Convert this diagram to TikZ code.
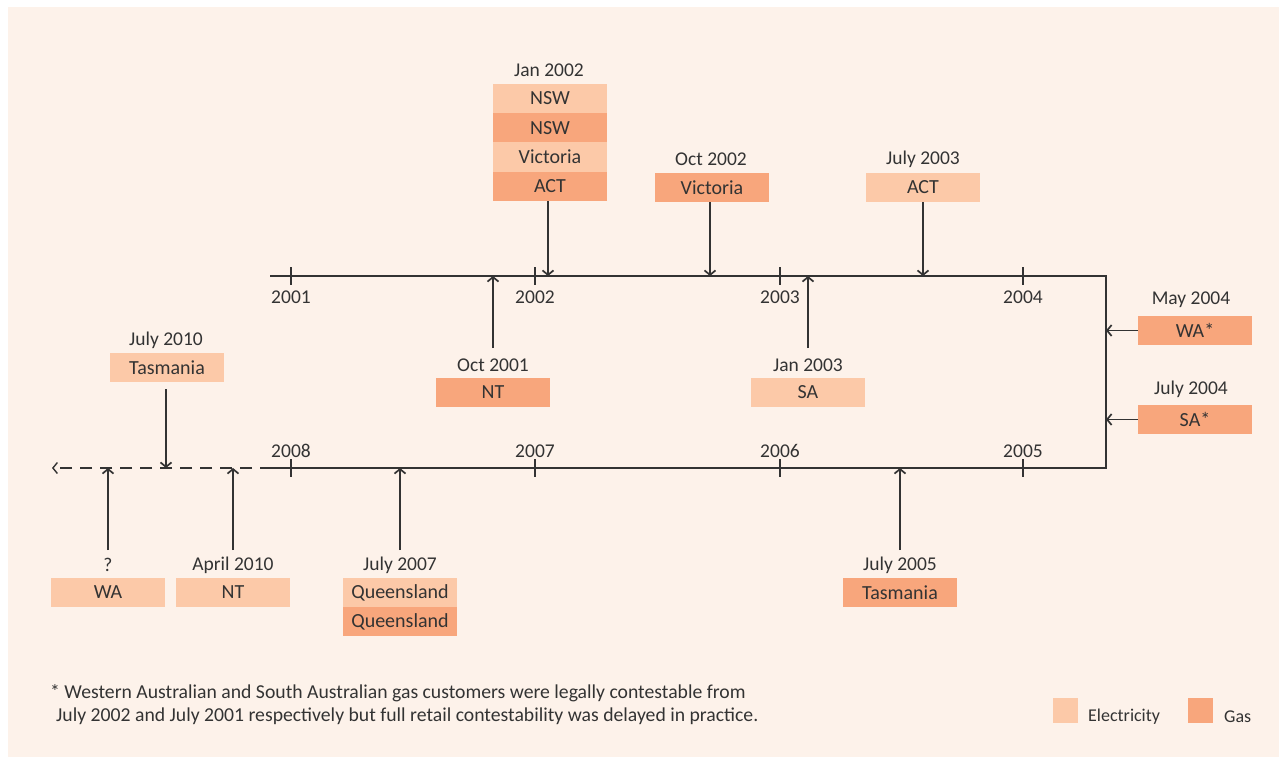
\documentclass[tikz,border=0pt]{standalone}
\usepackage{fontspec}
\setmainfont{Carlito}
\usetikzlibrary{arrows.meta}
\definecolor{bgc}{HTML}{FDF2EA}
\definecolor{elec}{HTML}{FCC9A8}
\definecolor{gasc}{HTML}{F8A67C}
\definecolor{ink}{HTML}{333333}
\tikzset{
  box/.style={minimum width=114pt, minimum height=29.3pt, inner sep=0pt, text=ink, font=\fontsize{20}{22}\selectfont},
  ebox/.style={box, fill=elec},
  gbox/.style={box, fill=gasc},
  lbl/.style={inner sep=0pt, text=ink, font=\fontsize{19.5}{22}\selectfont},
  yr/.style={inner sep=0pt, text=ink, font=\fontsize{19.5}{22}\selectfont},
  axis/.style={draw=ink, line width=1.5pt},
  arr/.style={draw=ink, line width=1.5pt, -{Straight Barb[length=4.5pt,width=11pt,line width=1.7pt]}},
  tick/.style={draw=ink, line width=1.4pt},
}
\begin{document}
\begin{tikzpicture}[x=1pt,y=-1pt]
\useasboundingbox (0,0) rectangle (1286,757);
\fill[white] (0,0) rectangle (1286,757);
\fill[bgc] (8,7) rectangle (1279,757);

% timeline coordinates
\coordinate (tl) at (270,276);
\coordinate (tr) at (1106,276);
\coordinate (br) at (1106,468);
\coordinate (bs) at (272,468);
\coordinate (bl) at (52,468);
\draw[axis] (tl) -- (tr) -- (br) -- (bs);
\draw[axis, dash pattern=on 12pt off 8pt, -{Straight Barb[length=4.5pt,width=11pt,line width=1.4pt]}] (bs) -- (bl);

% ticks top
\foreach \x/\y in {291/2001,535/2002,780/2003,1023/2004}{
  \draw[tick] (\x,267) -- (\x,285);
  \node[yr] (y\y) at (\x,297) {\y};
}
% ticks bottom
\foreach \x/\y in {291/2008,535/2007,780/2006,1023/2005}{
  \draw[tick] (\x,459) -- (\x,477);
  \node[yr] (y\y) at (\x,451) {\y};
}

% Jan 2002
\node[lbl] (ljan02) at (549,70) {Jan 2002};
\node[ebox] (j1) at (550,98.5) {NSW};
\node[gbox] (j2) at (550,127.8) {NSW};
\node[ebox] (j3) at (550,157.1) {Victoria};
\node[gbox] (j4) at (550,186.4) {ACT};
\coordinate (pj) at (548,276);
\draw[arr] (j4.south -| pj) -- (pj);

% Oct 2002
\node[lbl] (loct02) at (711,159) {Oct 2002};
\node[gbox] (oct02) at (712,187.5) {Victoria};
\coordinate (po2) at (710,276);
\draw[arr] (oct02.south -| po2) -- (po2);

% July 2003
\node[lbl] (ljul03) at (923,159) {July 2003};
\node[ebox] (jul03) at (923,187.5) {ACT};
\coordinate (pj3) at (923,276);
\draw[arr] (jul03.south) -- (pj3);

% Oct 2001
\node[lbl] (loct01) at (493,365) {Oct 2001};
\node[gbox] (oct01) at (493,392.5) {NT};
\coordinate (so1) at (493,348);
\coordinate (po1) at (493,276);
\draw[arr] (so1) -- (po1);

% Jan 2003
\node[lbl] (ljan03) at (808,365) {Jan 2003};
\node[ebox] (jan03) at (808,392.5) {SA};
\coordinate (sj3) at (808,348);
\coordinate (pjn3) at (808,276);
\draw[arr] (sj3) -- (pjn3);

% May 2004
\node[lbl] (lmay04) at (1191,300) {May 2004};
\node[gbox] (may04) at (1195,330.5) {WA*};
\coordinate (pm4) at (1106,330.5);
\draw[arr] (may04.west) -- (pm4);

% July 2004
\node[lbl] (ljul04) at (1191,389) {July 2004};
\node[gbox] (jul04) at (1195,419.5) {SA*};
\coordinate (pjl4) at (1106,419.5);
\draw[arr] (jul04.west) -- (pjl4);

% July 2010
\node[lbl] (ljul10) at (166,340) {July 2010};
\node[ebox] (jul10) at (167,367.5) {Tasmania};
\coordinate (sj10) at (166,389);
\coordinate (pj10) at (166,468);
\draw[arr] (sj10) -- (pj10);

% ? WA
\node[lbl] (lq) at (108,565) {?};
\node[ebox] (wa) at (108,592.5) {WA};
\coordinate (swa) at (108,550);
\coordinate (pwa) at (108,468);
\draw[arr] (swa) -- (pwa);

% April 2010
\node[lbl] (lapr10) at (233,565) {April 2010};
\node[ebox] (apr10) at (233,592.5) {NT};
\coordinate (sa10) at (233,550);
\coordinate (pa10) at (233,468);
\draw[arr] (sa10) -- (pa10);

% July 2007
\node[lbl] (ljul07) at (400,565) {July 2007};
\node[ebox] (q1) at (400,592.5) {Queensland};
\node[gbox] (q2) at (400,621.8) {Queensland};
\coordinate (sj7) at (400,550);
\coordinate (pj7) at (400,468);
\draw[arr] (sj7) -- (pj7);

% July 2005
\node[lbl] (ljul05) at (900,565) {July 2005};
\node[gbox] (jul05) at (900,592.5) {Tasmania};
\coordinate (sj5) at (900,550);
\coordinate (pj5) at (900,468);
\draw[arr] (sj5) -- (pj5);

% footnote
\node[inner sep=0pt, text=ink, anchor=north west, align=left, font=\fontsize{19.7}{23}\selectfont] (note) at (50,684)
  {* Western Australian and South Australian gas customers were legally contestable from\\
   \hspace*{6pt}July 2002 and July 2001 respectively but full retail contestability was delayed in practice.};

% legend
\node[fill=elec, minimum size=25pt, inner sep=0pt] (le) at (1065.5,710.5) {};
\node[inner sep=0pt, text=ink, anchor=west, font=\fontsize{18}{20}\selectfont] (lel) at (1088,717) {Electricity};
\node[fill=gasc, minimum size=25pt, inner sep=0pt] (lg) at (1200.5,710.5) {};
\node[inner sep=0pt, text=ink, anchor=west, font=\fontsize{18}{20}\selectfont] (lgl) at (1224,717) {Gas};
\end{tikzpicture}
\end{document}
